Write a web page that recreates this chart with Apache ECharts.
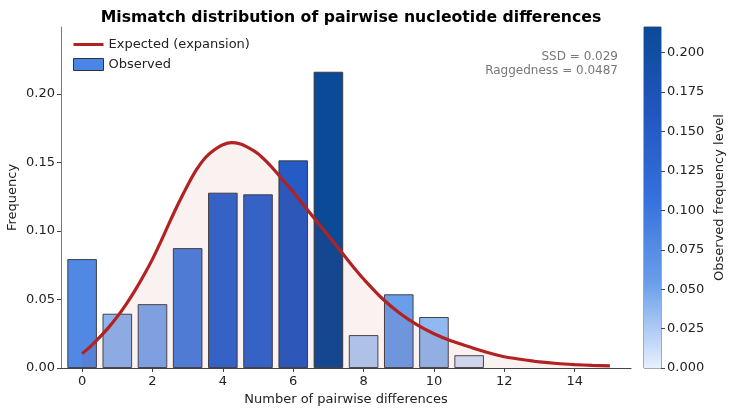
<!DOCTYPE html>
<html>
<head>
<meta charset="utf-8">
<script src="https://cdn.jsdelivr.net/npm/echarts@6/dist/echarts.min.js"></script>
<style>
  html, body { margin: 0; padding: 0; background: #fff; }
  #chart { width: 732px; height: 415px; }
</style>
</head>
<body>
<div id="chart"></div>
<script>
// observed mismatch frequencies (x = number of pairwise differences)
var diffs = [0, 1, 2, 3, 4, 5, 6, 7, 8, 9, 10, 11];
var observed = [0.0795, 0.0396, 0.0466, 0.0875, 0.1280, 0.1268, 0.1516, 0.2163, 0.0240, 0.0538, 0.0372, 0.0093];

// expected curve under expansion
var expectedX = [0, 0.25, 0.5, 0.75, 1, 1.25, 1.5, 1.75, 2, 2.25, 2.5, 2.75, 3, 3.25, 3.5, 3.75, 4, 4.25, 4.5, 4.75, 5, 5.25, 5.5, 5.75, 6, 6.25, 6.5, 6.75, 7, 7.25, 7.5, 7.75, 8, 8.5, 9, 9.5, 10, 10.5, 11, 11.5, 12, 12.5, 13, 13.5, 14, 14.5, 15];
var expectedY = [0.0105, 0.016, 0.0225, 0.0295, 0.0375, 0.0465, 0.0565, 0.0675, 0.0795, 0.093, 0.1072, 0.1208, 0.1335, 0.1448, 0.1535, 0.1592, 0.163, 0.1645, 0.1635, 0.1605, 0.1565, 0.1505, 0.1435, 0.136, 0.1285, 0.1205, 0.1125, 0.1045, 0.0965, 0.0885, 0.0805, 0.0725, 0.065, 0.0515, 0.0405, 0.0318, 0.025, 0.0197, 0.0155, 0.0115, 0.0082, 0.0062, 0.0045, 0.0033, 0.0025, 0.0019, 0.0015];

var xTicks = [0, 2, 4, 6, 8, 10, 12, 14];
var cbMax = 0.2163;
var statLines = ['SSD = 0.029', 'Raggedness = 0.0487'];

var rampColors = ['#e8f0fe', '#6a9eea', '#3570dc', '#2256bf', '#0a4a97'];

var myChart = echarts.init(document.getElementById('chart'));

var barData = diffs.map(function (d, i) { return [d, observed[i]]; });
var curveData = expectedX.map(function (d, i) { return [d, expectedY[i]]; });

var cbStops = rampColors.map(function (c, i) {
  return { offset: i / (rampColors.length - 1), color: c };
});

var font = 'DejaVu Sans';

myChart.setOption({
  animation: false,
  textStyle: { fontFamily: font },
  title: {
    text: 'Mismatch distribution of pairwise nucleotide differences',
    left: 346,
    textAlign: 'center',
    top: 5,
    textStyle: { fontFamily: font, fontSize: 15.7, fontWeight: 'bold', color: '#000' }
  },
  legend: {
    orient: 'vertical',
    left: 68,
    top: 33,
    itemWidth: 30,
    itemHeight: 12,
    itemGap: 7,
    textStyle: { fontFamily: font, fontSize: 13, color: '#222' },
    data: [
      { name: 'Expected (expansion)', icon: 'path://M0,0H30V3H0Z', itemStyle: { color: '#b22222' } },
      { name: 'Observed', icon: 'rect', itemStyle: { color: '#4a86e8', borderColor: '#333', borderWidth: 1 } }
    ]
  },
  visualMap: {
    show: false,
    type: 'continuous',
    seriesIndex: 0,
    dimension: 1,
    min: 0,
    max: cbMax,
    inRange: { color: rampColors }
  },
  graphic: statLines.map(function (t, i) {
    return {
      type: 'text',
      right: 114,
      top: 51 + i * 14,
      style: { text: t, fill: '#777', fontSize: 12, fontFamily: font, textAlign: 'right' }
    };
  }),
  grid: [
    { left: 61, right: 101, top: 27, bottom: 47, outerBoundsMode: 'none' },
    { left: 644, width: 17, top: 27, bottom: 47, outerBoundsMode: 'none', show: true, borderColor: '#555', borderWidth: 1 }
  ],
  xAxis: [
    {
      type: 'value',
      gridIndex: 0,
      min: -0.6,
      max: 15.6,
      name: 'Number of pairwise differences',
      nameLocation: 'middle',
      nameGap: 25,
      nameMoveOverlap: false,
      nameTextStyle: { fontFamily: font, fontSize: 13, color: '#222' },
      axisLine: { show: true, onZero: false, lineStyle: { color: '#444', width: 1 } },
      axisTick: { show: true, length: 4, customValues: xTicks, lineStyle: { color: '#444' } },
      axisLabel: { customValues: xTicks, fontSize: 13, color: '#222', margin: 7 },
      splitLine: { show: false }
    },
    {
      type: 'category',
      gridIndex: 1,
      data: ['cb'],
      show: false
    }
  ],
  yAxis: [
    {
      type: 'value',
      gridIndex: 0,
      min: 0,
      max: 0.249,
      interval: 0.05,
      name: 'Frequency',
      nameLocation: 'middle',
      nameGap: 42,
      nameMoveOverlap: false,
      nameTextStyle: { fontFamily: font, fontSize: 13, color: '#222' },
      axisLine: { show: true, onZero: false, lineStyle: { color: '#777', width: 1 } },
      axisTick: { show: true, length: 4, lineStyle: { color: '#444' } },
      axisLabel: { fontSize: 13, color: '#222', margin: 6, showMaxLabel: false, formatter: function (v) { return v.toFixed(2); } },
      splitLine: { show: false }
    },
    {
      type: 'value',
      gridIndex: 1,
      position: 'right',
      min: 0,
      max: cbMax,
      interval: 0.025,
      name: 'Observed frequency level',
      nameLocation: 'middle',
      nameRotate: 90,
      nameGap: 52,
      nameTextStyle: { fontFamily: font, fontSize: 13, color: '#222' },
      axisLine: { show: false },
      axisTick: { show: true, length: 4, lineStyle: { color: '#444' } },
      axisLabel: { fontSize: 13, color: '#222', margin: 6, showMaxLabel: false, formatter: function (v) { return v.toFixed(3); } },
      splitLine: { show: false }
    }
  ],
  series: [
    {
      name: 'Observed',
      type: 'bar',
      xAxisIndex: 0,
      yAxisIndex: 0,
      barWidth: 29.5,
      z: 2,
      itemStyle: { color: '#4a86e8', borderColor: '#333', borderWidth: 0.9 },
      data: barData
    },
    {
      name: 'Expected (expansion)',
      type: 'line',
      xAxisIndex: 0,
      yAxisIndex: 0,
      smooth: 0.3,
      symbol: 'none',
      showSymbol: false,
      z: 3,
      lineStyle: { color: '#b22222', width: 3.2 },
      itemStyle: { color: '#b22222' },
      areaStyle: { color: 'rgba(178,34,34,0.09)' },
      data: curveData
    },
    {
      name: 'colorbar',
      type: 'bar',
      xAxisIndex: 1,
      yAxisIndex: 1,
      barWidth: '100%',
      silent: true,
      itemStyle: { color: new echarts.graphic.LinearGradient(0, 1, 0, 0, cbStops) },
      data: [cbMax]
    }
  ]
});

window.addEventListener('resize', function () {
  myChart.resize();
});
</script>
</body>
</html>
